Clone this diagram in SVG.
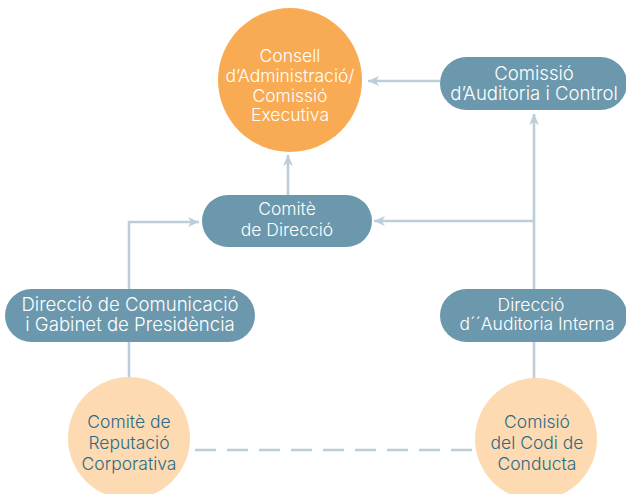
<svg xmlns="http://www.w3.org/2000/svg" width="626" height="494" viewBox="0 0 626 494">
<defs>
<style>
text{font-family:Inter,"Liberation Sans",Arial,sans-serif;font-size:17.5px;font-weight:300;text-anchor:middle}
.big{font-size:18.6px}
.pill{fill:#6B98AC}
.wt{fill:#ffffff}
.dt{fill:#2C6A86}
.peach{fill:#FDDAB1}
.conn{fill:none;stroke:#BCCED9;stroke-width:2.6}
</style>
<marker id="ah" markerUnits="userSpaceOnUse" markerWidth="12" markerHeight="12" viewBox="0 0 12 12" refX="11" refY="6" orient="auto">
<path d="M0,1 L11,6 L0,11 L3,6 z" fill="#BCCED9"/>
</marker>
</defs>
<rect width="626" height="494" fill="#ffffff"/>
<g id="connectors">
<path class="conn" d="M440,81 H368" marker-end="url(#ah)"/>
<path class="conn" d="M288,195 V155" marker-end="url(#ah)"/>
<path class="conn" d="M129,289 V222 H199" marker-end="url(#ah)"/>
<path class="conn" d="M534,289 V114" marker-end="url(#ah)"/>
<path class="conn" d="M534,221 H374" marker-end="url(#ah)"/>
<path class="conn" d="M129,342 V378"/>
<path class="conn" d="M534,342 V379"/>
<path class="conn" d="M195,450 H474" stroke-dasharray="21,11"/>
</g>
<g id="consell">
<circle cx="290" cy="80" r="72" fill="#F9AB53"/>
<text class="wt" x="290" y="62">Consell</text>
<text class="wt" x="290" y="82">d’Administració/</text>
<text class="wt" x="290" y="102">Comissió</text>
<text class="wt" x="290" y="121">Executiva</text>
</g>
<g id="auditoria-control">
<rect class="pill" x="440" y="57" width="187" height="53" rx="26.5"/>
<text class="wt big" x="534" y="80">Comissió</text>
<text class="wt big" x="534" y="100">d’Auditoria i Control</text>
</g>
<g id="comite-direccio">
<rect class="pill" x="202" y="195" width="170" height="52" rx="26"/>
<text class="wt" x="287" y="215">Comitè</text>
<text class="wt" x="287" y="236">de Direcció</text>
</g>
<g id="direccio-comunicacio">
<rect class="pill" x="5" y="289" width="250" height="53" rx="26.5"/>
<text class="wt big" x="130" y="311">Direcció de Comunicació</text>
<text class="wt big" x="130" y="331">i Gabinet de Presidència</text>
</g>
<g id="auditoria-interna">
<rect class="pill" x="440" y="289" width="187" height="53" rx="26.5"/>
<text class="wt" x="531" y="311">Direcció</text>
<text class="wt" x="537" y="330">d´´Auditoria Interna</text>
</g>
<g id="reputacio">
<circle class="peach" cx="129" cy="438" r="61"/>
<text class="dt" x="129" y="428">Comitè de</text>
<text class="dt" x="129" y="449">Reputació</text>
<text class="dt" x="129" y="470">Corporativa</text>
</g>
<g id="codi-conducta">
<circle class="peach" cx="536" cy="439" r="61"/>
<text class="dt" x="537" y="428">Comisió</text>
<text class="dt" x="537" y="449">del Codi de</text>
<text class="dt" x="537" y="470">Conducta</text>
</g>
</svg>
